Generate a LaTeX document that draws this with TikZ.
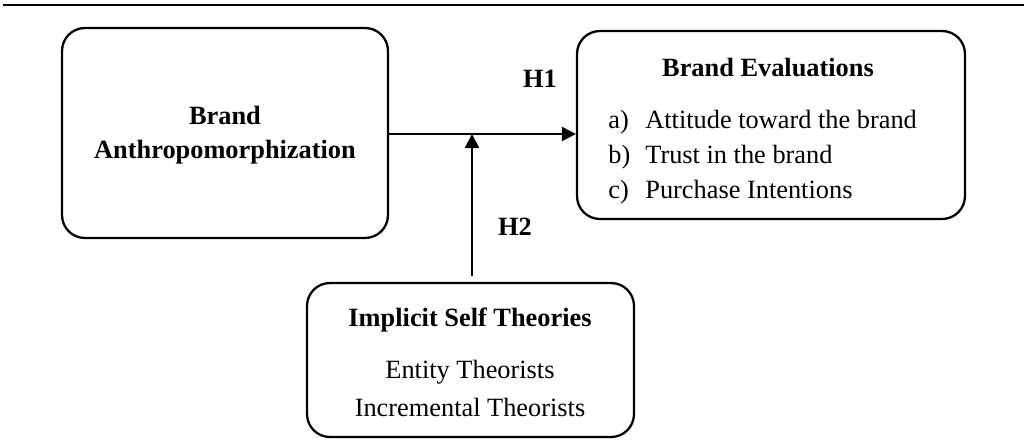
\documentclass[tikz,border=0pt]{standalone}
\usepackage{fontspec}
\setmainfont{Liberation Serif}
\usetikzlibrary{arrows.meta}
\tikzset{
  box/.style={draw,line width=1.3pt,rounded corners=13pt,inner sep=0pt},
  hyp/.style={font=\bfseries\fontsize{15}{19}\selectfont},
  txt/.style={font=\fontsize{15}{19}\selectfont},
  item/.style={txt,anchor=west,inner sep=0pt,text height=1.5ex,text depth=.25ex},
  arr/.style={line width=1.3pt,-{Triangle[length=8pt,width=8pt]}}
}

\begin{document}
\begin{tikzpicture}[x=0.02cm,y=-0.02cm]
    \useasboundingbox (0,0) rectangle (1024,447);
    \draw [line width=1.5pt] (3,5) -- (1024,5);

    \node [box,minimum width=6.52cm,minimum height=4.2cm] (anthro) at (225,133) {};
    \node [box,minimum width=7.76cm,minimum height=3.76cm] (evals) at (771,125) {};
    \node [box,minimum width=6.54cm,minimum height=3.08cm] (isit) at (470.5,360) {};

    \node [hyp,align=center] (anthro-txt) at (225,135) {Brand\\Anthropomorphization};
    \node [hyp] (evals-title) at (768,68) {Brand Evaluations};
    \foreach \l/\t/\y in {a/Attitude toward the brand/123, b/Trust in the brand/158, c/Purchase Intentions/193}
      {
        \node [item] (lbl-\l) at (608,\y) {\l)};
        \node [item] (item-\l) at (645,\y) {\t};
      }
    \node [hyp] (isit-title) at (470,320) {Implicit Self Theories};
    \node [txt] (entity) at (470,372) {Entity Theorists};
    \node [txt] (incr) at (470,407) {Incremental Theorists};

    \node [hyp] (h1) at (540,79) {H1};
    \node [hyp] (h2) at (515,227) {H2};

    \coordinate (join) at (472,134);
    \draw [arr] (anthro.east |- join) -- (evals.west |- join);
    \draw [arr] ([yshift=3.4pt]isit.north -| join) -- (join);
  \end{tikzpicture}
\end{document}
